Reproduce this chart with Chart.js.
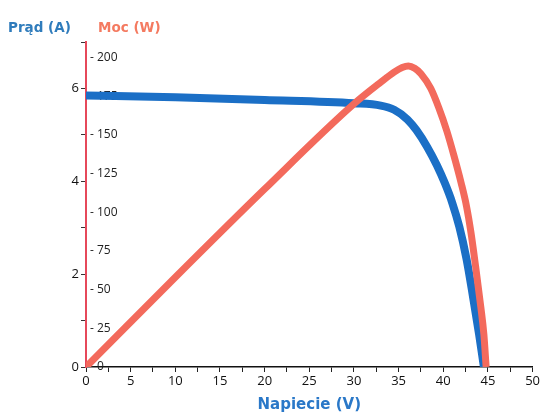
<!DOCTYPE html>
<html>
<head>
<meta charset="utf-8">
<script src="https://cdn.jsdelivr.net/npm/chart.js@4.4.0/dist/chart.umd.min.js"></script>
<style>
  body { margin: 0; background: #fff; }
  #wrap { position: relative; width: 541px; height: 414px; }
  .head { position: absolute; top: 19px; font: bold 13.5px "DejaVu Sans", sans-serif; }
  #headI { left: 8px; color: #2f7cbc; }
  #headP { left: 98px; color: #f47a60; }
</style>
</head>
<body>
<div id="wrap">
  <canvas id="chart"></canvas>
  <span class="head" id="headI">Prąd (A)</span>
  <span class="head" id="headP">Moc (W)</span>
</div>
<script>
// Current curve (A) vs voltage (V)
const currentVolts = [0, 10, 20, 30, 33, 34.5, 36, 37, 38.2, 39.3, 40.2, 41.0, 41.8, 42.6, 43.3, 44.0, 44.55];
const currentAmps = [5.85, 5.81, 5.75, 5.68, 5.63, 5.54, 5.33, 5.10, 4.74, 4.34, 3.95, 3.54, 3.02, 2.33, 1.55, 0.72, 0];

// Power curve (W) vs voltage (V)
const powerVolts = [0, 10, 20, 30, 33, 34.5, 35.4, 36.1, 36.8, 37.5, 38.6, 39.5, 40.4, 41.2, 42.0, 42.6, 43.1, 43.6, 44.2, 44.55, 44.8];
const powerWatts = [0, 58, 115, 170, 184, 190.5, 193.5, 194.5, 193, 189.5, 180, 167.5, 152.5, 136.5, 119, 104, 87, 66, 39, 21, 0];

const blue = '#1b6fc6';
const red = '#f36a5c';

const toPoints = (xs, ys) => xs.map((x, i) => ({ x: x, y: ys[i] }));

new Chart(document.getElementById('chart'), {
    type: 'line',
    data: {
        datasets: [{
            label: 'Moc (W)',
            data: toPoints(powerVolts, powerWatts),
            yAxisID: 'yP',
            borderColor: red,
            borderWidth: 7,
            pointRadius: 0,
            cubicInterpolationMode: 'monotone',
            fill: false
        }, {
            label: 'Prąd (A)',
            data: toPoints(currentVolts, currentAmps),
            yAxisID: 'yI',
            borderColor: blue,
            borderWidth: 8,
            pointRadius: 0,
            cubicInterpolationMode: 'monotone',
            fill: false
        }]
    },
    options: {
        responsive: true,
        maintainAspectRatio: false,
        animation: false,
        layout: { padding: { top: 42, right: 0 } },
        plugins: { legend: { display: false }, tooltip: { enabled: false } },
        scales: {
            x: {
                type: 'linear',
                min: 0,
                max: 50,
                afterFit: s => { s.height = 47; },
                border: { color: '#111', width: 1.5 },
                grid: { drawOnChartArea: false, tickLength: 5, color: '#222' },
                ticks: {
                    stepSize: 2.5,
                    autoSkip: false,
                    maxRotation: 0,
                    padding: 1,
                    color: '#111',
                    font: { family: 'Open Sans', size: 13 },
                    callback: v => (v % 5 === 0 ? v : '')
                },
                title: {
                    display: true,
                    text: 'Napiecie (V)',
                    color: '#2a78c8',
                    font: { family: 'DejaVu Sans', size: 15, weight: 'bold' },
                    padding: { top: 0, bottom: 0 }
                }
            },
            yI: {
                type: 'linear',
                position: 'left',
                weight: 1,
                min: 0,
                max: 7,
                afterFit: s => { s.width = 86; },
                border: { color: '#e6485a', width: 2 },
                grid: { drawOnChartArea: false, tickLength: 5, color: '#333' },
                ticks: {
                    stepSize: 1,
                    autoSkip: false,
                    padding: 2,
                    color: '#111',
                    font: { family: 'Open Sans', size: 13 },
                    callback: v => (v % 2 === 0 && v < 7 ? v : '')
                }
            },
            yP: {
                type: 'linear',
                position: 'left',
                weight: 0,
                min: 0,
                max: 210,
                afterFit: s => { s.width = 0; },
                border: { display: false },
                grid: { display: false, drawTicks: false },
                ticks: {
                    stepSize: 25,
                    autoSkip: false,
                    mirror: true,
                    padding: 4,
                    color: '#222',
                    font: { family: 'Open Sans', size: 12 },
                    callback: v => (v <= 200 ? '- ' + v : '')
                }
            }
        }
    }
});
</script>
</body>
</html>
